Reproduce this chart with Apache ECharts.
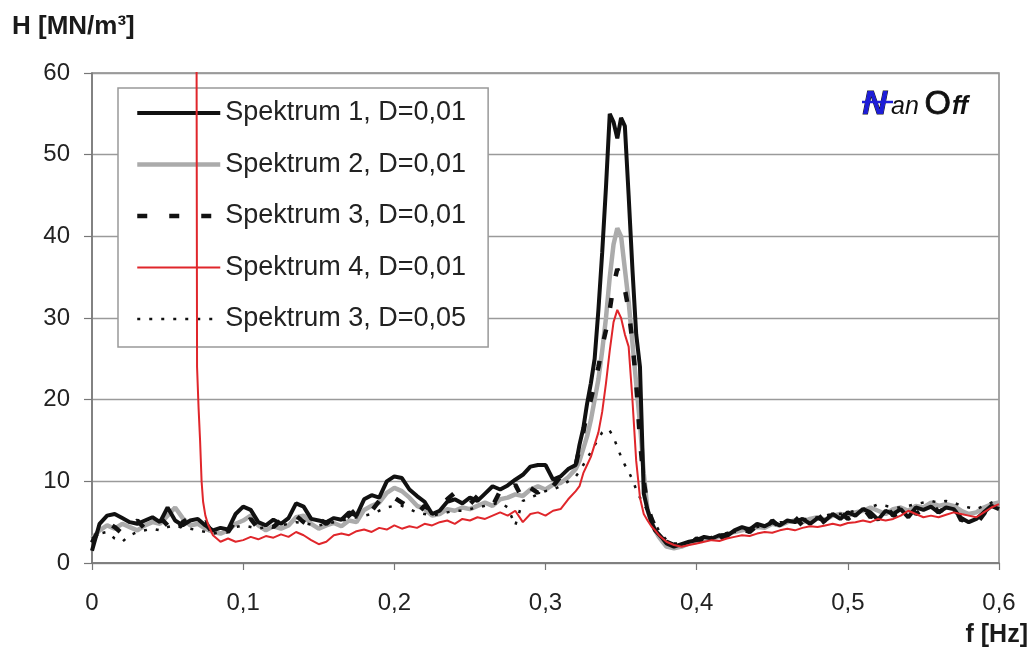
<!DOCTYPE html>
<html><head><meta charset="utf-8">
<script src="https://cdn.jsdelivr.net/npm/echarts@6/dist/echarts.min.js"></script>
<style>html,body{margin:0;padding:0;background:#fff}#c{width:1034px;height:657px}</style>
</head><body><div id="c"></div>
<script>
// ---- x sample positions (Hz) ----
const freq = [
 0,0.005,0.01,0.015,0.02,0.025,0.03,0.035,0.04,0.045,
 0.05,0.055,0.06,0.065,0.07,0.075,0.08,0.085,0.09,0.095,
 0.1,0.105,0.11,0.115,0.12,0.125,0.13,0.135,0.14,0.145,
 0.15,0.155,0.16,0.165,0.17,0.175,0.18,0.185,0.19,0.195,
 0.2,0.205,0.21,0.215,0.22,0.225,0.23,0.235,0.24,0.245,
 0.25,0.255,0.26,0.265,0.27,0.275,0.28,0.285,0.29,0.295,
 0.3,0.305,0.31,0.315,0.32,
 0.3225,0.325,0.3275,0.33,0.3325,0.335,0.3375,0.34,0.3425,0.345,
 0.3475,0.35,0.3525,0.355,0.3575,0.36,0.3625,0.365,0.3675,0.37,
 0.3725,0.375,0.3775,0.38,
 0.385,0.39,0.395,0.4,0.405,0.41,0.415,0.42,0.425,0.43,
 0.435,0.44,0.445,0.45,0.455,0.46,0.465,0.47,0.475,0.48,
 0.485,0.49,0.495,0.5,0.505,0.51,0.515,0.52,0.525,0.53,
 0.535,0.54,0.545,0.55,0.555,0.56,0.565,0.57,0.575,0.58,
 0.585,0.59,0.595,0.6
];
const xTickLabels = ['0','0,1','0,2','0,3','0,4','0,5','0,6'];
const seriesNames = ['Spektrum 1, D=0,01','Spektrum 2, D=0,01','Spektrum 3, D=0,01','Spektrum 4, D=0,01','Spektrum 3, D=0,05'];

const spektrum1 = [
 1.5,4.8,5.8,6.0,5.5,5.0,4.8,5.2,5.6,5.0,
 6.8,5.2,4.6,5.2,5.4,4.6,4.0,4.3,4.1,6.0,
 6.9,6.5,5.0,4.6,5.3,4.8,5.5,7.3,6.9,5.4,
 5.2,5.0,5.5,5.3,6.2,5.8,7.8,8.3,8.0,10.0,
 10.6,10.4,9.0,8.2,7.5,6.0,6.4,7.5,7.8,7.3,
 8.0,7.6,8.5,9.4,9.0,9.5,10.2,10.8,11.8,12.0,
 12.0,10.2,10.6,11.5,12.0,
 14.5,16.5,19.5,22.0,25.0,31.0,38.0,46.0,55.0,54.0,
 52.0,54.5,53.5,45.0,36.0,28.0,24.0,8.5,6.5,5.0,
 4.0,3.5,3.0,2.4,
 2.0,2.3,2.6,2.8,3.2,3.0,3.4,3.3,4.0,4.4,
 4.1,4.8,4.5,5.0,4.6,5.2,5.0,5.4,4.8,5.5,
 5.2,6.0,5.4,6.2,5.8,6.6,6.2,5.3,6.4,6.0,
 6.6,5.6,6.8,6.5,6.9,6.2,6.8,6.6,5.5,5.0,
 5.4,6.2,7.0,6.6
];
const spektrum2 = [
 3.0,4.0,4.6,4.2,4.8,4.4,4.0,4.6,5.0,4.8,
 5.8,6.8,5.5,4.6,4.8,4.2,3.8,3.6,4.0,4.8,
 5.2,5.8,4.6,4.0,4.5,4.2,4.6,5.6,5.8,4.8,
 4.2,4.6,4.9,4.5,5.2,5.0,6.5,7.0,7.4,8.6,
 9.2,8.8,8.0,7.0,6.6,5.8,6.0,6.6,6.4,6.8,
 6.6,7.0,7.4,7.0,7.8,8.0,8.4,8.2,9.0,9.4,
 9.0,9.6,9.8,10.5,11.5,
 12.5,14.0,15.5,17.5,20.0,22.5,26.0,30.0,35.0,39.0,
 41.0,40.0,36.0,32.0,27.0,22.0,17.0,11.0,6.5,5.0,
 4.0,3.2,2.6,2.0,
 1.8,2.0,2.4,2.6,2.9,3.0,3.2,3.5,3.8,4.0,
 4.2,4.4,4.3,4.8,4.6,5.0,5.2,5.0,5.4,5.6,
 5.3,5.8,6.0,5.8,6.2,6.4,6.8,6.4,6.0,6.6,
 6.8,6.4,7.0,6.8,7.4,7.0,7.2,7.0,6.4,6.0,
 6.2,6.8,7.2,7.4
];
const spektrum3 = [
 2.5,4.2,5.0,4.4,3.6,4.6,5.2,4.2,4.8,5.6,
 4.6,3.4,5.0,5.6,4.8,5.0,3.6,4.4,3.8,5.2,
 4.6,5.4,4.2,5.0,4.4,5.2,4.8,5.8,5.0,4.4,
 5.4,4.8,5.6,5.0,5.8,6.6,7.0,6.4,7.6,7.0,
 8.0,7.4,6.8,6.0,7.0,6.4,7.2,7.8,8.6,7.6,
 7.2,8.2,7.8,7.0,8.8,8.4,9.6,7.8,9.2,8.6,
 10.0,9.4,10.6,11.0,12.0,
 14.0,16.0,18.5,20.0,22.0,24.0,26.5,28.5,31.0,34.0,
 36.0,35.0,33.5,31.0,27.0,22.0,15.0,10.0,7.0,5.5,
 4.4,3.6,3.0,2.6,
 2.2,2.6,2.2,3.0,2.6,3.4,2.8,3.6,3.2,4.2,
 3.8,4.6,4.0,5.2,4.4,4.8,5.6,4.6,5.0,6.0,
 4.8,5.6,6.2,5.4,6.0,6.8,5.6,6.4,7.0,5.8,
 6.2,7.2,6.0,6.6,7.4,6.2,6.8,7.0,5.2,5.8,
 4.8,6.0,7.6,7.8
];
const spektrum3D05 = [
 3.0,3.6,3.8,3.0,2.6,3.4,3.8,4.0,4.2,4.0,
 4.4,4.6,4.3,4.2,4.0,3.8,3.6,3.8,4.0,4.4,
 4.6,4.4,4.2,4.4,4.5,4.6,4.8,5.0,4.9,4.7,
 4.6,4.8,5.0,5.2,5.4,5.6,5.8,6.0,6.4,6.8,
 7.0,7.0,6.6,6.2,6.0,5.8,6.0,6.2,6.4,6.4,
 6.6,6.8,7.0,7.2,7.4,6.8,4.6,7.6,8.0,8.4,
 8.8,9.0,9.4,10.0,10.6,
 11.2,12.0,12.8,13.6,14.4,15.2,16.0,16.4,16.2,15.4,
 14.2,13.0,12.0,11.2,10.2,9.0,8.0,7.2,6.4,5.6,
 4.8,4.0,3.4,2.8,
 2.4,2.4,2.6,2.8,3.0,3.2,3.4,3.6,3.8,4.0,
 4.2,4.4,4.6,4.8,5.0,5.0,5.2,5.4,5.4,5.6,
 5.8,6.0,6.0,6.2,6.4,6.6,6.8,7.2,7.0,6.8,
 6.8,7.0,7.2,7.4,7.6,7.4,7.6,7.4,7.0,6.8,
 6.6,7.0,7.4,7.8
];
// Spektrum 4 starts off-scale near 0.068 Hz and falls steeply
const spektrum4HeadF = [0.068,0.0695,0.0705,0.0715,0.0725,0.0735,0.075,0.077];
const spektrum4HeadV = [200,24,19,15,10,7.5,5.8,4.6];
const spektrum4 = [
 null,null,null,null,null,null,null,null,null,null,
 null,null,null,null,null,null,3.4,2.6,3.0,2.6,
 2.8,3.2,2.9,3.3,3.1,3.5,3.2,3.8,3.4,2.8,
 2.3,2.6,3.4,3.6,3.4,3.9,4.1,3.8,4.3,4.1,
 4.6,4.2,4.5,4.3,4.8,4.6,5.0,5.2,4.8,5.4,
 5.2,5.6,5.4,5.8,6.2,5.8,6.4,5.0,6.0,6.2,
 5.8,6.4,6.6,7.8,8.8,
 9.4,11.0,12.0,13.0,14.5,16.0,18.5,22.0,26.0,29.5,
 31.0,30.0,28.0,26.5,20.0,12.5,8.0,6.0,5.2,4.5,
 4.0,3.4,3.0,2.6,
 2.2,2.0,2.2,2.4,2.6,2.8,2.7,3.0,3.2,3.4,
 3.3,3.6,3.8,3.7,4.0,4.2,4.0,4.3,4.5,4.4,
 4.6,4.8,4.6,4.9,5.0,5.2,5.0,5.4,5.2,5.4,
 5.8,6.4,6.0,5.6,5.8,5.6,5.9,6.2,6.0,5.8,
 5.6,6.2,6.8,7.2
];

const pairs = vals => freq.map((f, i) => [f, vals[i]]).filter(p => p[1] != null);
const redData = spektrum4HeadF.map((f, i) => [f, spektrum4HeadV[i]]).concat(pairs(spektrum4));

const FONT = '"Liberation Sans", Arial, Helvetica, sans-serif';
const TXT = '#222';

const chart = echarts.init(document.getElementById('c'), null, {renderer: 'canvas'});
chart.setOption({
  animation: false,
  backgroundColor: '#fff',
  grid: {left: 92, right: 35, top: 73, bottom: 94, show: true, borderColor: '#888', borderWidth: 1.5, backgroundColor: '#fff'},
  xAxis: {
    type: 'value', min: 0, max: 0.6, interval: 0.1,
    axisLine: {show: true, lineStyle: {color: '#777', width: 1.5}},
    axisTick: {show: true, length: 7, lineStyle: {color: '#777', width: 1.2}},
    splitLine: {show: false},
    axisLabel: {fontFamily: FONT, fontSize: 24, color: TXT, margin: 28,
      formatter: v => xTickLabels[Math.round(v * 10)]}
  },
  yAxis: {
    type: 'value', min: 0, max: 60, interval: 10,
    axisLine: {show: true, lineStyle: {color: '#777', width: 1.5}},
    axisTick: {show: true, length: 8, lineStyle: {color: '#777', width: 1.2}},
    splitLine: {show: true, lineStyle: {color: '#9a9a9a', width: 1.3}},
    axisLabel: {fontFamily: FONT, fontSize: 24, color: TXT, margin: 22}
  },
  legend: {
    orient: 'vertical', left: 118, top: 88,
    padding: [10, 22, 13, 17],
    itemWidth: 83, itemHeight: 14, itemGap: 21.5,
    backgroundColor: '#fff', borderColor: '#999', borderWidth: 1.5,
    textStyle: {fontFamily: FONT, fontSize: 27, color: TXT, lineHeight: 30},
    lineStyle: {width: 'inherit'},
    itemStyle: {opacity: 0, borderWidth: 0},
    data: seriesNames
  },
  graphic: [
    {type: 'text', left: 12, top: 14, style: {text: 'H [MN/m³]', font: 'bold 26px ' + FONT, fill: '#1a1a1a'}},
    {type: 'text', right: 6, top: 623, style: {text: 'f [Hz]', font: 'bold 25px ' + FONT, fill: '#1a1a1a'}},
    {type: 'text', left: 862, top: 87, z: 10, style: {text: 'N', font: 'italic bold 34px ' + FONT, fill: '#1d1dd8', stroke: '#111', lineWidth: 1}},
    {type: 'text', left: 891, top: 95, z: 10, style: {text: 'an', font: 'italic 25px ' + FONT, fill: '#111'}},
    {type: 'text', left: 924, top: 87, z: 10, style: {text: 'O', font: '34px ' + FONT, fill: '#111', stroke: '#111', lineWidth: 0.8}},
    {type: 'text', left: 952, top: 95, z: 10, style: {text: 'ff', font: 'italic bold 25px ' + FONT, fill: '#111'}},
    {type: 'line', z: 11, shape: {x1: 862, y1: 102, x2: 893, y2: 102}, style: {stroke: '#1d1dd8', lineWidth: 2.5}}
  ],
  series: [
    {name: seriesNames[1], type: 'line', data: pairs(spektrum2), symbol: 'none', z: 2,
     lineStyle: {color: '#ababab', width: 4.5}, itemStyle: {color: '#ababab'}},
    {name: seriesNames[0], type: 'line', data: pairs(spektrum1), symbol: 'none', z: 3,
     lineStyle: {color: '#111', width: 4}, itemStyle: {color: '#111'}},
    {name: seriesNames[2], type: 'line', data: pairs(spektrum3), symbol: 'none', z: 3,
     lineStyle: {color: '#111', width: 4.5, type: [10, 22]}, itemStyle: {color: '#111'}},
    {name: seriesNames[4], type: 'line', data: pairs(spektrum3D05), symbol: 'none', z: 3,
     lineStyle: {color: '#111', width: 2.5, type: [3, 9]}, itemStyle: {color: '#111'}},
    {name: seriesNames[3], type: 'line', data: redData, symbol: 'none', z: 4,
     lineStyle: {color: '#e0262b', width: 2}, itemStyle: {color: '#e0262b'}}
  ]
});
</script>
</body></html>
